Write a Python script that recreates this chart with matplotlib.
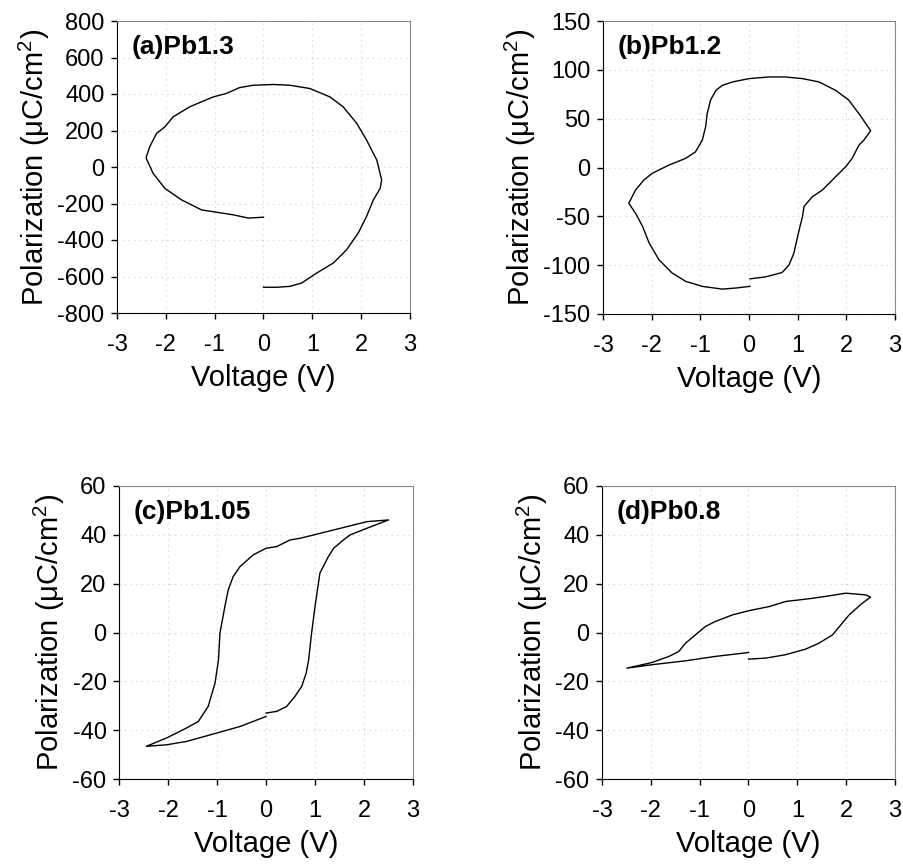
import matplotlib
matplotlib.use("Agg")
import matplotlib.pyplot as plt

plt.rcParams['font.family'] = ['Liberation Sans', 'DejaVu Sans']
plt.rcParams['mathtext.fontset'] = 'custom'
plt.rcParams['mathtext.rm'] = 'Liberation Sans'
plt.rcParams['axes.unicode_minus'] = False

# (a) Pb1.3
v_a = [0.0, 0.27, 0.54, 0.78, 1.09, 1.43, 1.70, 1.94, 2.11, 2.25, 2.39, 2.42,
       2.32, 2.11, 1.91, 1.63, 1.36, 0.95, 0.54, 0.20, -0.21, -0.49, -0.76,
       -1.03, -1.51, -1.85, -2.02, -2.19, -2.33, -2.40, -2.40, -2.26, -2.02,
       -1.68, -1.27, -0.62, -0.31, 0.0]
p_a = [-659, -659, -654, -636, -581, -526, -454, -362, -271, -180, -117, -71,
       38, 148, 239, 330, 384, 430, 448, 452, 448, 435, 403,
       384, 330, 275, 220, 184, 111, 56, 47, -35, -117,
       -180, -235, -262, -280, -275]

# (b) Pb1.2
v_b = [0.02, 0.34, 0.68, 0.82, 0.92, 1.03, 1.10, 1.13, 1.30, 1.51, 1.78, 1.99,
       2.12, 2.26, 2.36, 2.50, 2.40, 2.26, 2.05, 1.78, 1.44, 1.10, 0.75, 0.41,
       0.0, -0.34, -0.55, -0.68, -0.79, -0.86, -0.89, -0.96, -1.10, -1.30,
       -1.64, -1.99, -2.16, -2.33, -2.47, -2.33, -2.19, -2.05, -1.85, -1.58,
       -1.30, -0.96, -0.55, -0.27, 0.02]
p_b = [-114, -112, -107.5, -100, -88, -64, -50, -40, -30, -23, -9.4, 0.9,
       9.4, 23, 28, 37.6, 45, 55, 69, 79, 87.6, 91, 92.7, 92.7,
       91, 87.6, 84, 79, 69, 55, 42, 28, 16, 9.4,
       2.6, -6, -12.8, -23, -36.6, -47, -60, -77.5, -94.5, -108,
       -116.6, -121.7, -124.5, -123.4, -121.7]

# (c) Pb1.05
v_c = [0.0, 0.22, 0.42, 0.59, 0.73, 0.82, 0.87, 0.93, 1.00, 1.10, 1.27, 1.38,
       1.58, 1.72, 2.06, 2.50, 2.06, 1.38, 0.70, 0.49, 0.22, 0.0, -0.26, -0.53,
       -0.67, -0.77, -0.84, -0.94, -0.97, -1.04, -1.18, -1.38, -1.62, -2.03,
       -2.44, -2.03, -1.62, -1.01, -0.53, -0.26, 0.0]
p_c = [-33, -32.3, -30.3, -26.2, -22, -16.6, -11.2, -0.3, 10.6, 24.3, 31, 34.5,
       37.9, 40, 42.7, 46.1, 45.4, 42, 38.6, 37.9, 35.2, 34.5, 31.8, 27,
       22.9, 17.5, 10.6, -0.3, -11.2, -20.7, -30.3, -36.4, -39.1, -43.2,
       -46.6, -46, -44.6, -41.2, -38.5, -36.4, -34.4]

# (d) Pb0.8
v_d = [0.0, 0.35, 0.76, 1.17, 1.44, 1.72, 1.89, 2.06, 2.33, 2.50, 2.40, 1.99,
       1.65, 1.31, 0.76, 0.42, 0.0, -0.33, -0.68, -0.88, -1.09, -1.29, -1.43,
       -1.63, -1.98, -2.49, -1.98, -1.29, -0.68, 0.0]
p_d = [-10.9, -10.5, -9.1, -6.8, -4.4, -1.0, 3.1, 7.2, 12.0, 14.5, 15.4, 16.1,
       15.0, 14.0, 12.7, 10.6, 8.9, 7.2, 4.5, 2.5, -1.0, -4.4, -7.8,
       -9.8, -12.3, -14.6, -13.2, -11.6, -9.8, -8.2]

labels = ['(a)Pb1.3', '(b)Pb1.2', '(c)Pb1.05', '(d)Pb0.8']
y_limits = [(-800, 800, 200), (-150, 150, 50), (-60, 60, 20), (-60, 60, 20)]
x_ticks = [-3, -2, -1, 0, 1, 2, 3]

fig = plt.figure(figsize=(9.04, 8.66), dpi=100)
W, H = 904.0, 866.0
# axes boxes in pixels: left, top, right, bottom
boxes = [(117, 21, 410, 313), (603, 21, 895, 314),
         (119, 486, 413, 779), (602, 486, 895, 779)]

data = [(v_a, p_a), (v_b, p_b), (v_c, p_c), (v_d, p_d)]

for i in range(4):
    l, t, r, b = boxes[i]
    ax = fig.add_axes([l / W, 1 - b / H, (r - l) / W, (b - t) / H])
    v, p = data[i]
    ax.plot(v, p, color='black', linewidth=1.0)

    lo, hi, step = y_limits[i]
    ax.set_xlim(-3, 3)
    ax.set_ylim(lo, hi)
    ax.set_xticks(x_ticks)
    ax.set_yticks(list(range(lo, hi + 1, step)))
    ax.grid(True, linestyle=(0, (1, 4)), color='#cfcfcf', linewidth=0.8)

    for s in ['top', 'right']:
        ax.spines[s].set_color('#888888')
    for s in ['left', 'bottom']:
        ax.spines[s].set_color('black')

    ax.tick_params(direction='out', length=4, width=1, labelsize=17)
    ax.tick_params(axis='x', pad=11)
    ax.tick_params(axis='y', pad=5)
    ax.set_xlabel('Voltage (V)', fontsize=21, labelpad=6)
    ax.set_ylabel('Polarization (μC/cm$^2$)', fontsize=21, labelpad=4)
    ax.text(0.05, 0.91, labels[i], transform=ax.transAxes, ha='left',
            va='center', fontsize=19, fontweight='bold')

fig.savefig('out.png', dpi=100)
